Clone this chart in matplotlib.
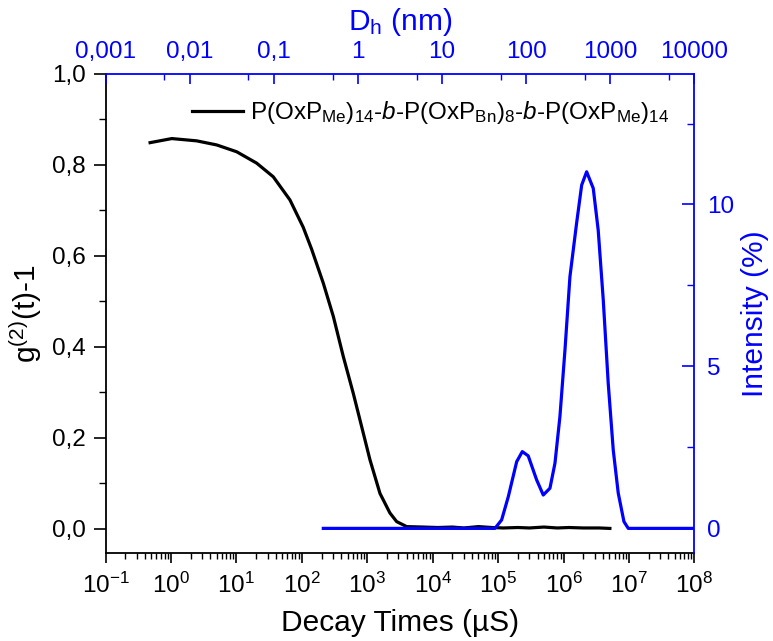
import numpy as np
import matplotlib
matplotlib.use("Agg")
import matplotlib.pyplot as plt
from matplotlib.ticker import LogLocator, FixedLocator, MultipleLocator, FuncFormatter, NullFormatter

plt.rcParams['font.family'] = ['Liberation Sans', 'DejaVu Sans']
plt.rcParams['mathtext.fontset'] = 'custom'
plt.rcParams['mathtext.rm'] = 'Liberation Sans'
plt.rcParams['mathtext.it'] = 'Liberation Sans:italic'
plt.rcParams['mathtext.bf'] = 'Liberation Sans:bold'

BLUE = "#0000FF"

# correlation function g2(t)-1 vs decay time (us)
decay_t = [0.48, 1.03, 2.47, 5.0, 10.1, 20.4, 36.6, 65.9, 105, 141, 213, 303, 430, 611,
           820, 1099, 1563, 2218, 2812, 4000, 7178, 1.2e4, 2e4, 3e4, 5e4, 8e4, 1.2e5,
           2e5, 3e5, 5e5, 8e5, 1.2e6, 2e6, 3.5e6, 5.1e6]
g2 = [0.849, 0.858, 0.853, 0.844, 0.829, 0.804, 0.774, 0.723, 0.663, 0.615, 0.540, 0.467,
      0.379, 0.298, 0.225, 0.152, 0.078, 0.035, 0.016, 0.005, 0.004, 0.003, 0.004, 0.002,
      0.005, 0.003, 0.002, 0.003, 0.002, 0.004, 0.002, 0.003, 0.002, 0.002, 0.001]

# intensity distribution (%) on the same decay time axis
int_t = [213, 8.93e4, 1.13e5, 1.43e5, 1.92e5, 2.34e5, 2.88e5, 3.87e5, 4.89e5, 6.19e5,
         7.38e5, 8.79e5, 1.05e6, 1.25e6, 1.58e6, 1.89e6, 2.25e6, 2.84e6, 3.38e6, 4.04e6,
         4.81e6, 5.74e6, 6.84e6, 8.36e6, 9.73e6, 1e8]
intensity = [0, 0, 0.26, 0.98, 2.06, 2.37, 2.24, 1.50, 1.03, 1.24, 2.01, 3.45, 5.51, 7.77,
             9.42, 10.60, 11.01, 10.50, 9.21, 7.05, 4.48, 2.42, 1.09, 0.21, 0, 0]

dh_ticks = [1e-3, 1e-2, 1e-1, 1, 10, 100, 1000, 10000]
dh_labels = ["0,001", "0,01", "0,1", "1", "10", "100", "1000", "10000"]

legend_label = (r"P(OxP$_{\mathrm{Me}}$)$_{14}$-$\mathit{b}$-P(OxP$_{\mathrm{Bn}}$)$_{8}$"
                r"-$\mathit{b}$-P(OxP$_{\mathrm{Me}}$)$_{14}$")

fig = plt.figure(figsize=(7.73, 6.41), dpi=100)
ax = fig.add_axes([0.1365, 0.1373, 0.7619, 0.7473])
ax2 = ax.twinx()
ax3 = ax.twiny()

tick_fs = 17.5
label_fs = 21.5

ln, = ax.plot(decay_t, g2, color="black", lw=2.3, label=legend_label)
ax2.plot(int_t, intensity, color=BLUE, lw=2.3)

ax.set_xscale("log")
ax.set_xlim(1e-1, 1e8)
ax.set_ylim(-0.053, 1.0)
ax.xaxis.set_major_locator(LogLocator(base=10, numticks=20))
ax.xaxis.set_minor_locator(LogLocator(base=10, subs=np.arange(2, 10), numticks=20))
ax.xaxis.set_minor_formatter(NullFormatter())
ax.yaxis.set_major_locator(MultipleLocator(0.2))
ax.yaxis.set_minor_locator(MultipleLocator(0.1))
ax.yaxis.set_major_formatter(FuncFormatter(lambda v, p: f"{v:.1f}".replace(".", ",")))
ax.tick_params(axis="both", which="major", direction="out", length=9, width=1.2,
               labelsize=tick_fs, pad=5)
ax.tick_params(axis="both", which="minor", direction="out", length=5, width=1.0)
ax.tick_params(axis="x", which="major", length=7, pad=7)
ax.tick_params(axis="x", which="minor", length=4)
ax.set_xlabel("Decay Times (µS)", fontsize=label_fs, labelpad=8)
ax.set_ylabel(r"g$^{(2)}$(t)-1", fontsize=label_fs, labelpad=6)
for s in ["left", "bottom"]:
    ax.spines[s].set_linewidth(1.3)
for s in ["top", "right"]:
    ax.spines[s].set_visible(False)

ax2.set_ylim(-0.76, 14.03)
ax2.yaxis.set_major_locator(MultipleLocator(5))
ax2.yaxis.set_minor_locator(MultipleLocator(2.5))
ax2.tick_params(axis="y", which="major", direction="in", length=9, width=1.2,
                colors=BLUE, labelsize=tick_fs, pad=9)
ax2.tick_params(axis="y", which="minor", direction="in", length=5, width=1.0, colors=BLUE)
ax2.set_ylabel("Intensity (%)", fontsize=label_fs, color=BLUE, labelpad=5)
for s in ["left", "bottom", "top"]:
    ax2.spines[s].set_visible(False)
ax2.spines["right"].set_color(BLUE)
ax2.spines["right"].set_linewidth(1.3)

ax3.set_xscale("log")
ax3.set_xlim(1e-3, 1e4)
ax3.xaxis.set_major_locator(FixedLocator(dh_ticks))
ax3.xaxis.set_ticklabels(dh_labels)
ax3.xaxis.set_minor_locator(FixedLocator([5 * t for t in dh_ticks[:-1]]))
ax3.xaxis.set_minor_formatter(NullFormatter())
ax3.tick_params(axis="x", which="major", direction="in", length=7, width=1.2,
                colors=BLUE, labelsize=tick_fs, pad=8)
ax3.tick_params(axis="x", which="minor", direction="in", length=4, width=1.0, colors=BLUE)
ax3.set_xlabel(r"D$_{\mathrm{h}}$ (nm)", fontsize=label_fs, color=BLUE, labelpad=8)
for s in ["left", "bottom", "right"]:
    ax3.spines[s].set_visible(False)
ax3.spines["top"].set_color(BLUE)
ax3.spines["top"].set_linewidth(1.3)

ax3.legend(handles=[ln], loc="center left", bbox_to_anchor=(0.146, 0.9186), frameon=False,
           fontsize=17.5, handlelength=2.1, handletextpad=0.3, borderpad=0, borderaxespad=0)

fig.savefig("out.png", dpi=100)
